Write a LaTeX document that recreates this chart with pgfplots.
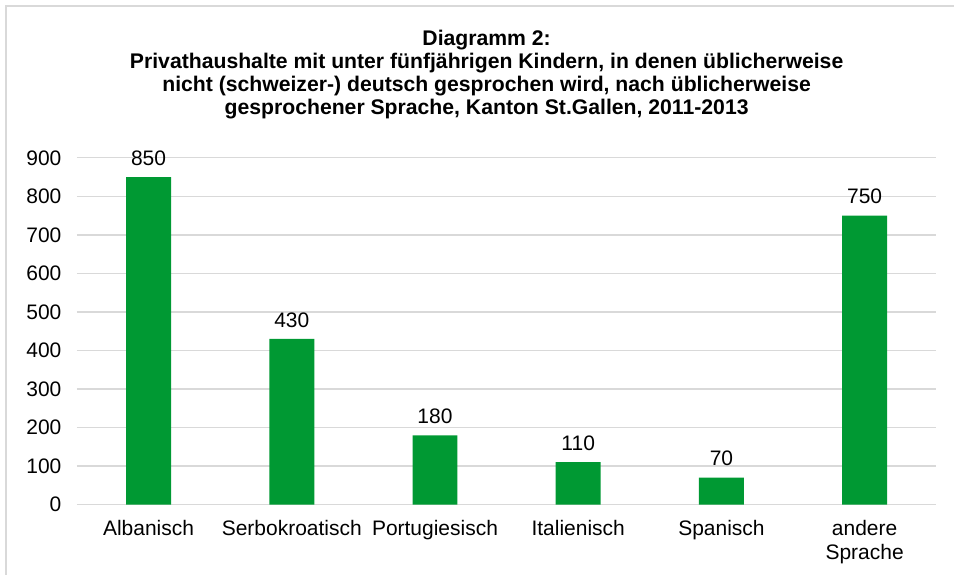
\documentclass[border=0pt]{standalone}
\usepackage{fontspec}
\setmainfont{Liberation Sans}
\usepackage{pgfplots}
\pgfplotsset{compat=1.18}
\definecolor{barg}{RGB}{0,153,51}
\definecolor{gridc}{RGB}{217,217,217}
\begin{document}
\begin{tikzpicture}[x=1pt,y=1pt]
\fill[white] (0,0) rectangle (955,575);
\draw[gridc, line width=1.5pt] (6,0) -- (6,569) -- (955,569);
\node[align=center, font=\fontsize{21.2}{23}\selectfont\bfseries] at (487,500)
{Diagramm 2:\\Privathaushalte mit unter fünfjährigen Kindern, in denen üblicherweise\\nicht (schweizer-) deutsch gesprochen wird, nach üblicherweise\\gesprochener Sprache, Kanton St.Gallen, 2011-2013};
\begin{axis}[
  at={(77pt,70pt)}, anchor=south west,
  scale only axis, width=860pt, height=347pt,
  ymin=0, ymax=900, xmin=-0.5, xmax=5.5,
  ybar, bar width=45pt,
  axis line style={draw=none},
  ytick distance=100,
  ymajorgrids, grid style={gridc, line width=1.2pt},
  major tick length=0pt,
  xtick=data,
  xticklabels={Albanisch,Serbokroatisch,Portugiesisch,Italienisch,Spanisch,{andere\\Sprache}},
  xticklabel style={align=center, font=\fontsize{21}{24}\selectfont, yshift=-12pt},
  yticklabel style={font=\fontsize{21}{24}\selectfont, xshift=-12pt},
  /pgf/number format/assume math mode=true,
  nodes near coords,
  every node near coord/.append style={font=\fontsize{21}{24}\selectfont, black, yshift=8pt},
]
\addplot[fill=barg, draw=none] coordinates {(0,850) (1,430) (2,180) (3,110) (4,70) (5,750)};
\end{axis}
\end{tikzpicture}
\end{document}
